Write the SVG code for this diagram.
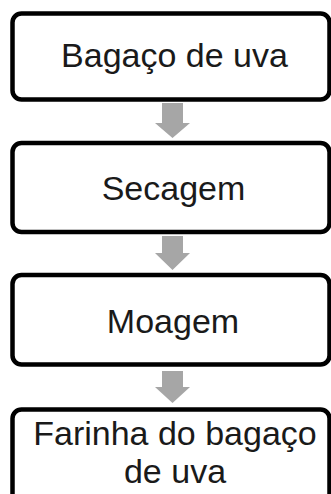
<svg xmlns="http://www.w3.org/2000/svg" width="331" height="494" viewBox="0 0 331 494">
<style>
.box{fill:#ffffff;stroke:#000000;stroke-width:4.5}
.lbl{font-family:"Liberation Sans",Arial,sans-serif;font-size:34px;fill:#1a1a1a;text-anchor:middle}
.arr{fill:#a6a6a6}
</style>
<rect width="331" height="494" fill="#ffffff"/>
<g id="connectors">
<polygon class="arr" points="162,103 183,103 183,123 190,123 172.5,138 155,123 162,123"/>
<polygon class="arr" points="162,236 183,236 183,253 190,253 172.5,270 155,253 162,253"/>
<polygon class="arr" points="162,371 183,371 183,387 190,387 172.5,403 155,387 162,387"/>
</g>
<g id="node1">
<rect class="box" x="12.5" y="13.5" width="317" height="86" rx="9"/>
<text class="lbl" x="174.5" y="67">Bagaço de uva</text>
</g>
<g id="node2">
<rect class="box" x="12.5" y="143" width="317" height="89" rx="9"/>
<text class="lbl" x="173.5" y="200">Secagem</text>
</g>
<g id="node3">
<rect class="box" x="12.5" y="275" width="317" height="89.5" rx="9"/>
<text class="lbl" x="173" y="333">Moagem</text>
</g>
<g id="node4">
<rect class="box" x="12.5" y="409.5" width="317" height="100" rx="9"/>
<text class="lbl" x="175" y="445">Farinha do bagaço</text>
<text class="lbl" x="175" y="483">de uva</text>
</g>
</svg>
